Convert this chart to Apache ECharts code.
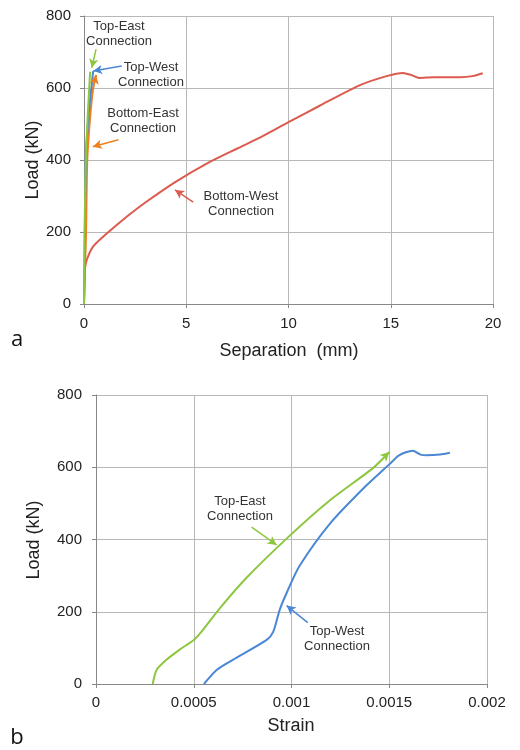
<!DOCTYPE html>
<html><head><meta charset="utf-8">
<script src="https://cdn.jsdelivr.net/npm/echarts@6/dist/echarts.min.js"></script>
<style>html,body{margin:0;padding:0;background:#fff}#c{width:520px;height:750px}</style>
</head><body><div id="c"></div>
<script>
// Chart a: Separation (mm) vs Load (kN)
const bottomWest = [[0,0],[0.02,60],[0.05,100],[0.15,125],[0.45,160],[1,190],[2.1,243],[3,282],[4.5,340],[6,390],[7.5,432],[8.6,462],[10,505],[11.5,550],[13.5,608],[14.8,633],[15.6,642],[16,636],[16.4,628],[17.1,630],[18.4,630],[19,633],[19.5,641]];
const topEastA = [[0,0],[0.03,200],[0.08,380],[0.18,520],[0.3,645]];
const topWestA = [[0,0],[0.03,150],[0.06,300],[0.1,420],[0.25,540],[0.45,647]];
const bottomEastA = [[0,0],[0.06,120],[0.1,200],[0.16,400],[0.3,520],[0.45,600],[0.59,636]];
// Chart b: Strain vs Load (kN)
const topEastB = [[0.00029,0],[0.00031,39],[0.00036,67],[0.00043,96],[0.0005,122],[0.00054,145],[0.000634,210],[0.00077,294],[0.00099,410],[0.0012,510],[0.00142,599],[0.0015,642]];
const topWestB = [[0.000552,0],[0.000617,39],[0.0007,67],[0.000873,122],[0.000907,145],[0.00094,206],[0.000975,252],[0.00104,326],[0.0012,446],[0.00138,548],[0.0015,608],[0.00155,633],[0.00162,646],[0.00166,635],[0.00169,633],[0.00176,635],[0.00181,640]];
const xTicksA = [0,5,10,15,20];
const yTicks = [0,200,400,600,800];
const xTicksB = [0,0.0005,0.001,0.0015,0.002];

const RED='#dc5a4e', GREEN='#8dc63f', BLUE='#4a87d4', ORANGE='#f07f1f';
const FONT='"Liberation Sans", Arial, sans-serif';
const chart = echarts.init(document.getElementById('c'));

function xAxisCfg(grid, ticks){
  return {type:'value', gridIndex:grid, min:ticks[0], max:ticks[ticks.length-1], interval:ticks[1]-ticks[0],
    axisLine:{show:true,onZero:false,lineStyle:{color:'#888',width:1}},
    axisTick:{show:true,length:4,lineStyle:{color:'#888'}},
    axisLabel:{color:'#222',fontSize:15,fontFamily:FONT,margin:grid===0?12:11,formatter:v=>String(v)},
    splitLine:{show:true,lineStyle:{color:'#b8b8b8',width:1}}};
}
function yAxisCfg(grid){
  return {type:'value', gridIndex:grid, min:yTicks[0], max:yTicks[yTicks.length-1], interval:yTicks[1]-yTicks[0],
    axisLine:{show:true,lineStyle:{color:'#888',width:1}},
    axisTick:{show:true,length:4,lineStyle:{color:'#888'}},
    axisLabel:{color:'#222',fontSize:15,fontFamily:FONT,margin:grid===0?13:14},
    splitLine:{show:true,lineStyle:{color:'#b8b8b8',width:1}}};
}
function seg(from,to){ return [{coord:from},{coord:to}]; }
function arrow(color, segs){
  return {symbol:['none','arrow'], symbolSize:[7,9], silent:true, label:{show:false},
    lineStyle:{color:color,width:1.5,type:'solid'}, data:segs};
}
function tail(d){ return seg(d[d.length-2], d[d.length-1]); }
function line(name, data, color, xi, mark){
  const s = {name, type:'line', xAxisIndex:xi, yAxisIndex:xi, data, showSymbol:false, smooth:0.25,
    lineStyle:{color, width:2}, itemStyle:{color}, z:3};
  if(mark) s.markLine = mark;
  return s;
}
const ann = (x,y,t)=>({type:'text', x, y, style:{text:t, font:'13px '+FONT, fill:'#333', textAlign:'center', lineHeight:15}});
const big = (x,y,t,size,rot)=>({type:'text', x, y, rotation:rot||0, style:{text:t, font:size+'px '+FONT, fill:'#222', textAlign:'center', textVerticalAlign:'middle'}});

chart.setOption({
  animation:false,
  grid:[{left:84, top:16, width:409, height:288},{left:96, top:395, width:391, height:289}],
  xAxis:[xAxisCfg(0,xTicksA), xAxisCfg(1,xTicksB)],
  yAxis:[yAxisCfg(0), yAxisCfg(1)],
  series:[
    line('Bottom-West Connection', bottomWest, RED, 0, arrow(RED,[seg([5.34,283],[4.45,317])])),
    line('Bottom-East Connection', bottomEastA, ORANGE, 0, arrow(ORANGE,[seg([1.68,456],[0.43,437]), tail(bottomEastA)])),
    line('Top-West Connection', topWestA, BLUE, 0, arrow(BLUE,[seg([1.84,661],[0.45,647])])),
    line('Top-East Connection', topEastA, GREEN, 0, arrow(GREEN,[seg([0.59,708],[0.38,656])])),
    line('Top-East Connection', topEastB, GREEN, 1, arrow(GREEN,[seg([0.000796,434],[0.000924,385]), tail(topEastB)])),
    line('Top-West Connection', topWestB, BLUE, 1, arrow(BLUE,[seg([0.001083,170],[0.000975,217])]))
  ],
  graphic:[
    big(33,160,'Load (kN)',18,Math.PI/2),
    big(34,540,'Load (kN)',18,Math.PI/2),
    big(289,351,'Separation  (mm)',18),
    big(291,726,'Strain',18),
    {type:'text', x:17, y:340, style:{text:'a', font:'22px "Open Sans", sans-serif', fill:'#111', textAlign:'center', textVerticalAlign:'middle'}},
    {type:'text', x:17, y:738, style:{text:'b', font:'22px "Open Sans", sans-serif', fill:'#111', textAlign:'center', textVerticalAlign:'middle'}},
    ann(119,19,'Top-East\nConnection'),
    ann(151,60,'Top-West\nConnection'),
    ann(143,106,'Bottom-East\nConnection'),
    ann(241,189,'Bottom-West\nConnection'),
    ann(240,494,'Top-East\nConnection'),
    ann(337,624,'Top-West\nConnection')
  ]
});
</script></body></html>
